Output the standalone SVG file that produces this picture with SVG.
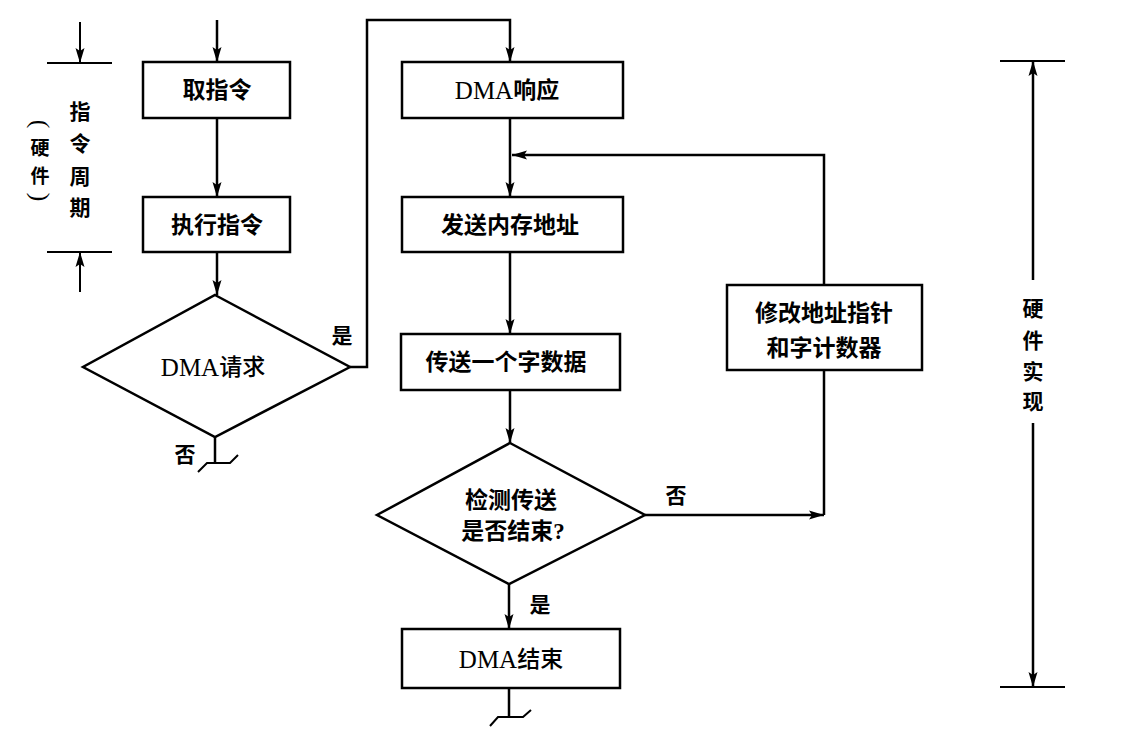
<svg xmlns="http://www.w3.org/2000/svg" width="1122" height="737" viewBox="0 0 1122 737">
<defs>
<marker id="ah" markerUnits="userSpaceOnUse" markerWidth="16" markerHeight="10" refX="15" refY="5" orient="auto">
<path d="M0,0.5 L15,5 L0,9.5 L3,5 z" fill="#000"/>
</marker>
<style>
.box{fill:#fff;stroke:#000;stroke-width:2.5}
.ln{fill:none;stroke:#000;stroke-width:2.5}
.thin{fill:none;stroke:#000;stroke-width:2}
.arr{fill:none;stroke:#000;stroke-width:2.5;marker-end:url(#ah)}
.t{font-family:"Liberation Serif","Noto Sans CJK SC",serif;font-size:23px;font-weight:bold;text-anchor:middle;dominant-baseline:central;fill:#000}
.lat{font-weight:normal;font-size:25px}
.lbl{font-family:"Noto Sans CJK SC",sans-serif;font-size:21px;font-weight:bold;text-anchor:middle;dominant-baseline:central;fill:#000}
.sm{font-size:19px}
.par{font-family:"Liberation Serif",serif;font-size:26px;text-anchor:middle;dominant-baseline:central;fill:#000}
</style>
</defs>
<rect width="1122" height="737" fill="#fff"/>

<g id="connectors">
<line class="arr" x1="217" y1="20" x2="217" y2="62"/>
<line class="arr" x1="217" y1="118" x2="217" y2="197"/>
<line class="arr" x1="217" y1="252" x2="217" y2="295"/>
<path class="ln" d="M215,437 V463"/>
<polyline class="thin" points="198,472 207,463 230,463 238,455"/>
<path class="arr" d="M350,367 H367 V20 H510 V62"/>
<line class="arr" x1="510" y1="118" x2="510" y2="197"/>
<line class="arr" x1="510" y1="252" x2="510" y2="334"/>
<line class="arr" x1="510" y1="390" x2="510" y2="443"/>
<line class="arr" x1="509" y1="584" x2="509" y2="629"/>
<path class="ln" d="M509,688 V717"/>
<polyline class="thin" points="490,726 498,717 523,717 531,710"/>
<line class="arr" x1="645" y1="515" x2="824" y2="515"/>
<line class="ln" x1="824" y1="515" x2="824" y2="370"/>
<path class="arr" d="M824,285 V155 H512"/>
</g>

<g id="cycle-marks">
<line class="thin" x1="47" y1="63" x2="112" y2="63"/>
<line class="thin" x1="47" y1="252" x2="112" y2="252"/>
<line class="arr" x1="80" y1="22" x2="80" y2="63" style="stroke-width:2"/>
<line class="arr" x1="80" y1="292" x2="80" y2="252" style="stroke-width:2"/>
<text class="lbl" x="80" y="110">指</text>
<text class="lbl" x="80" y="142">令</text>
<text class="lbl" x="80" y="175">周</text>
<text class="lbl" x="80" y="206">期</text>
<text class="par" x="40" y="124" transform="rotate(90 40 124)">(</text>
<text class="lbl sm" x="40" y="146">硬</text>
<text class="lbl sm" x="40" y="174">件</text>
<text class="par" x="40" y="197" transform="rotate(90 40 197)">)</text>
</g>

<g id="hw-marks">
<line class="thin" x1="1000" y1="61" x2="1065" y2="61"/>
<line class="thin" x1="1000" y1="687" x2="1065" y2="687"/>
<line class="arr" x1="1033" y1="280" x2="1033" y2="61"/>
<line class="arr" x1="1033" y1="423" x2="1033" y2="687"/>
<text class="lbl" x="1033" y="307">硬</text>
<text class="lbl" x="1033" y="339">件</text>
<text class="lbl" x="1033" y="370">实</text>
<text class="lbl" x="1033" y="400">现</text>
</g>

<g id="n-fetch">
<rect class="box" x="143" y="62" width="147" height="56"/>
<text class="t" x="217" y="90">取指令</text>
</g>
<g id="n-exec">
<rect class="box" x="143" y="197" width="147" height="55"/>
<text class="t" x="217" y="225">执行指令</text>
</g>
<g id="n-dmareq">
<polygon class="box" points="215,295 350,367 215,437 83,367"/>
<text class="t" x="213" y="367" style="font-weight:500"><tspan class="lat">DMA</tspan>请求</text>
</g>
<g id="n-dmaresp">
<rect class="box" x="402" y="62" width="221" height="56"/>
<text class="t" x="507" y="90"><tspan class="lat">DMA</tspan>响应</text>
</g>
<g id="n-sendaddr">
<rect class="box" x="402" y="197" width="221" height="55"/>
<text class="t" x="510" y="225">发送内存地址</text>
</g>
<g id="n-transfer">
<rect class="box" x="401" y="334" width="219" height="56"/>
<text class="t" x="506" y="362">传送一个字数据</text>
</g>
<g id="n-check">
<polygon class="box" points="510,443 645,515 509,584 377,515"/>
<text class="t" x="511" y="500">检测传送</text>
<text class="t" x="513" y="531">是否结束?</text>
</g>
<g id="n-modify">
<rect class="box" x="727" y="285" width="195" height="85"/>
<text class="t" x="824" y="313">修改地址指针</text>
<text class="t" x="824" y="348">和字计数器</text>
</g>
<g id="n-dmaend">
<rect class="box" x="402" y="629" width="218" height="59"/>
<text class="t" x="511" y="659" style="font-weight:500"><tspan class="lat">DMA</tspan>结束</text>
</g>

<g id="labels">
<text class="lbl" x="342" y="334">是</text>
<text class="lbl" x="185" y="453">否</text>
<text class="lbl" x="676" y="494">否</text>
<text class="lbl" x="540" y="603">是</text>
</g>
</svg>
